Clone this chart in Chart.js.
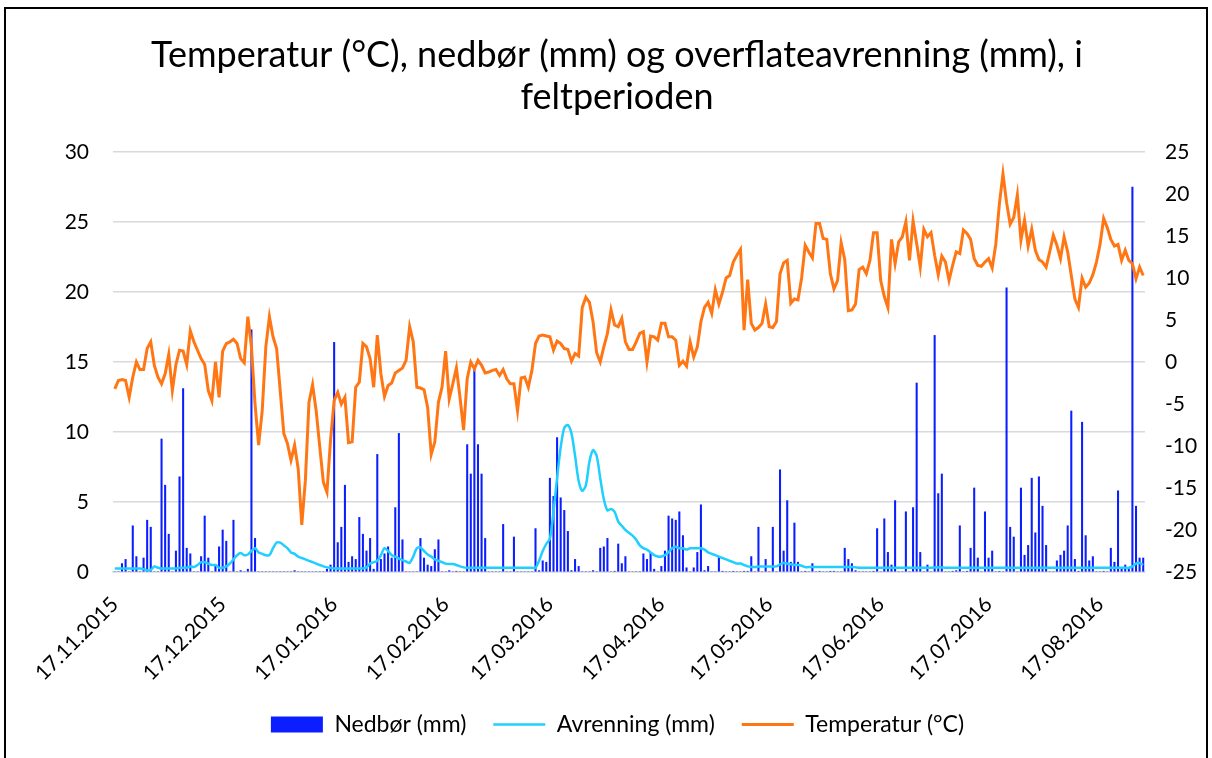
<!DOCTYPE html>
<html>
<head>
<meta charset="utf-8">
<script src="https://cdn.jsdelivr.net/npm/chart.js@4.4.1/dist/chart.umd.min.js"></script>
<style>
  body { margin: 0; background: #fff; }
  #ramme { position: absolute; left: 4px; top: 7px; width: 1200px; height: 800px; border: 2px solid #000; }
  canvas { display: block; }
</style>
</head>
<body>
<div id="ramme"><canvas id="graf" width="1200" height="749"></canvas></div>
<script>
// dagverdier fra 17.11.2015
const tittel = ['Temperatur (°C), nedbør (mm) og overflateavrenning (mm), i', 'feltperioden'];
const tickLabels = ['17.11.2015', '17.12.2015', '17.01.2016', '17.02.2016', '17.03.2016',
    '17.04.2016', '17.05.2016', '17.06.2016', '17.07.2016', '17.08.2016'];

const temperatur = [
    -3.2, -2.2, -2.1, -2.2, -4.2, -1.8, 0.0, -0.9, -0.9, 1.6,
    2.4, -0.4, -1.8, -2.6, -1.4, 0.9, -3.4, -0.3, 1.4, 1.3,
    -0.3, 3.7, 2.4, 1.4, 0.4, -0.3, -3.4, -4.6, 0.0, -4.2,
    1.3, 2.2, 2.4, 2.7, 2.2, 0.4, -0.1, 5.4, 1.8, -5.0,
    -9.9, -5.8, 1.8, 5.4, 3.0, 1.6, -3.4, -8.5, -9.7, -11.7,
    -9.9, -12.7, -19.4, -14.1, -4.8, -2.7, -5.8, -10.1, -14.3, -15.5,
    -9.3, -4.6, -3.6, -5.0, -4.2, -9.6, -9.5, -3.0, -2.4, 2.2,
    1.8, 0.4, -3.0, 3.2, -1.4, -4.1, -2.8, -2.5, -1.3, -1.0,
    -0.7, 0.2, 4.2, 2.4, -3.0, -3.1, -3.3, -5.4, -11.0, -9.5,
    -4.8, -3.0, 1.3, -4.4, -2.6, -0.7, -4.2, -8.1, -2.0, 0.0,
    -0.8, 0.2, -0.4, -1.3, -1.2, -1.0, -0.9, -1.6, -0.9, -2.0,
    -2.6, -2.6, -5.8, -1.9, -1.8, -3.0, -1.0, 2.2, 3.1, 3.2,
    3.1, 3.0, 1.4, 2.5, 2.2, 1.6, 1.5, 0.1, 1.0, 0.7,
    6.5, 7.7, 7.1, 4.8, 1.1, 0.0, 1.8, 3.4, 6.2, 4.4,
    4.2, 5.2, 2.4, 1.5, 1.5, 2.4, 3.4, 3.6, 0.0, 3.1,
    3.0, 2.6, 4.6, 4.6, 3.0, 3.0, 2.6, -0.4, 0.1, -0.5,
    2.4, 0.6, 1.8, 4.8, 6.5, 7.1, 5.8, 8.6, 6.9, 8.3,
    10.0, 10.3, 11.9, 12.7, 13.4, 3.8, 9.8, 4.6, 3.8, 4.1,
    4.6, 6.9, 4.2, 4.1, 4.8, 10.5, 11.8, 12.1, 7.0, 7.5,
    7.4, 10.0, 13.9, 13.1, 12.4, 16.5, 16.5, 14.7, 14.6, 10.5,
    8.7, 9.7, 14.2, 12.2, 6.1, 6.2, 6.9, 11.0, 11.3, 10.5,
    12.1, 15.4, 15.4, 9.7, 7.8, 6.5, 14.6, 11.7, 14.3, 14.9,
    16.7, 12.1, 16.8, 14.1, 11.3, 15.8, 14.9, 15.4, 12.7, 10.4,
    12.6, 11.9, 9.7, 11.5, 13.1, 12.9, 15.7, 15.3, 14.6, 12.3,
    11.5, 11.4, 11.9, 12.3, 11.2, 14.0, 18.8, 22.4, 19.0, 16.4,
    17.2, 19.9, 14.5, 16.9, 13.8, 15.8, 13.3, 12.2, 11.9, 11.3,
    13.1, 15.1, 13.9, 12.3, 14.9, 13.1, 10.3, 7.5, 6.5, 10.0,
    8.9, 9.4, 10.4, 11.9, 14.0, 17.1, 16.0, 14.6, 13.8, 14.0,
    12.1, 13.3, 12.1, 11.7, 9.9, 11.3, 10.3
];

const nedbor = [
    0, 0, 0.6, 0.9, 0, 3.3, 1.1, 0, 1.0, 3.7,
    3.2, 0, 0, 9.5, 6.2, 2.7, 0, 1.5, 6.8, 13.1,
    1.7, 1.3, 0, 0, 1.1, 4.0, 1.0, 0, 0.5, 1.8,
    3.0, 2.2, 0, 3.7, 0, 0.1, 0, 0.2, 17.3, 2.4,
    0, 0, 0, 0, 0, 0, 0, 0, 0, 0,
    0.1, 0, 0, 0, 0, 0, 0, 0, 0, 0.2,
    0.5, 16.4, 2.1, 3.2, 6.2, 0.7, 1.1, 0.9, 3.9, 2.7,
    1.5, 2.4, 0.2, 8.4, 0.9, 1.3, 1.8, 1.0, 4.6, 9.9,
    2.3, 0, 0, 0, 0, 2.4, 1.0, 0.5, 0.4, 1.6,
    2.3, 0, 0, 0.1, 0, 0.05, 0, 0, 9.1, 7.0,
    14.5, 9.1, 7.0, 2.4, 0, 0, 0, 0, 3.4, 0,
    0, 2.5, 0, 0, 0, 0, 0, 3.1, 0.1, 0.8,
    0.7, 6.7, 5.4, 9.6, 5.3, 4.4, 2.9, 0.1, 0.9, 0.4,
    0, 0, 0, 0.1, 0, 1.7, 1.8, 2.4, 0, 0.05,
    2.0, 0.6, 1.1, 0, 0, 0, 0, 1.3, 0.9, 1.4,
    0.2, 0, 0.4, 1.5, 4.0, 3.8, 3.7, 4.3, 2.6, 0.3,
    0, 0.3, 1.4, 4.8, 0.1, 0.4, 0, 0, 1.1, 0.05,
    0, 0, 0.05, 0, 0, 0.05, 0.05, 1.1, 0, 3.2,
    0, 0.9, 0, 3.2, 0, 7.3, 1.5, 5.1, 0.7, 3.5,
    0.7, 0, 0.05, 0, 0.6, 0, 0.05, 0, 0, 0.05,
    0.05, 0, 0, 1.7, 0.9, 0.6, 0.1, 0, 0, 0,
    0, 0.05, 3.1, 0, 3.8, 1.4, 0.5, 5.1, 0, 0,
    4.3, 0, 4.6, 13.5, 1.4, 0, 0.5, 0, 16.9, 5.6,
    7.0, 0, 0, 0.05, 0.1, 3.3, 0, 0.05, 1.7, 6.0,
    1.0, 0, 4.3, 1.0, 1.5, 0, 0.05, 0, 20.3, 3.2,
    2.5, 0, 6.0, 1.2, 1.9, 6.7, 2.8, 6.8, 4.7, 1.9,
    0, 0, 0.8, 1.2, 1.5, 3.3, 11.5, 0.9, 0.05, 10.7,
    2.6, 0.8, 1.1, 0, 0, 0.05, 0, 1.7, 0.7, 5.8,
    0.3, 0.5, 0.3, 27.5, 4.7, 1.0, 1.0
];

const avrenning = [
    0.25, 0.25, 0.25, 0.25, 0.25, 0.25, 0.25, 0.25, 0.2, 0.12,
    0.15, 0.4, 0.3, 0.25, 0.25, 0.25, 0.25, 0.25, 0.3, 0.3,
    0.3, 0.4, 0.35, 0.5, 0.7, 0.7, 0.6, 0.5, 0.5, 0.3,
    0.3, 0.4, 0.6, 0.9, 1.2, 1.35, 1.2, 1.25, 1.5, 1.7,
    1.4, 1.3, 1.2, 1.2, 1.7, 2.1, 2.1, 1.9, 1.7, 1.4,
    1.3, 1.1, 1.0, 0.9, 0.8, 0.7, 0.6, 0.5, 0.4, 0.33,
    0.3, 0.25, 0.25, 0.25, 0.25, 0.25, 0.25, 0.25, 0.25, 0.25,
    0.33, 0.6, 0.7, 0.8, 1.2, 1.7, 1.5, 1.2, 1.1, 0.95,
    0.85, 0.75, 0.65, 1.1, 1.7, 1.75, 1.5, 1.25, 1.1, 0.9,
    0.8, 0.7, 0.6, 0.57, 0.57, 0.5, 0.4, 0.33, 0.3, 0.3,
    0.3, 0.3, 0.3, 0.3, 0.3, 0.3, 0.3, 0.3, 0.3, 0.3,
    0.3, 0.3, 0.3, 0.3, 0.3, 0.3, 0.3, 0.3, 0.8, 1.5,
    2.0, 2.4, 4.3, 6.7, 8.9, 10.3, 10.5, 9.9, 8.3, 6.5,
    5.8, 6.2, 7.9, 8.7, 8.3, 6.7, 5.2, 4.4, 4.5, 4.3,
    3.6, 3.3, 3.0, 2.8, 2.6, 2.3, 1.9, 1.7, 1.6, 1.4,
    1.2, 1.1, 1.1, 1.2, 1.4, 1.7, 1.8, 1.7, 1.7, 1.6,
    1.7, 1.7, 1.7, 1.7, 1.6, 1.4, 1.3, 1.2, 1.1, 1.0,
    0.9, 0.8, 0.7, 0.6, 0.6, 0.5, 0.4, 0.36, 0.36, 0.4,
    0.4, 0.4, 0.4, 0.4, 0.4, 0.55, 0.65, 0.6, 0.55, 0.5,
    0.5, 0.45, 0.35, 0.35, 0.35, 0.35, 0.35, 0.35, 0.35, 0.35,
    0.35, 0.35, 0.35, 0.35, 0.35, 0.35, 0.33, 0.3, 0.3, 0.3,
    0.3, 0.3, 0.3, 0.3, 0.3, 0.3, 0.3, 0.3, 0.3, 0.3,
    0.3, 0.3, 0.3, 0.3, 0.3, 0.3, 0.3, 0.3, 0.33, 0.33,
    0.33, 0.3, 0.3, 0.3, 0.3, 0.3, 0.3, 0.3, 0.3, 0.3,
    0.3, 0.3, 0.3, 0.3, 0.3, 0.3, 0.3, 0.3, 0.3, 0.3,
    0.3, 0.3, 0.3, 0.3, 0.3, 0.3, 0.3, 0.3, 0.3, 0.3,
    0.3, 0.3, 0.3, 0.3, 0.3, 0.3, 0.3, 0.3, 0.3, 0.3,
    0.3, 0.3, 0.3, 0.3, 0.3, 0.3, 0.3, 0.3, 0.3, 0.3,
    0.3, 0.3, 0.3, 0.4, 0.6, 0.65, 0.5
];

// en kategori per dag
let startDato = new Date(2015, 10, 17);
let dager = temperatur.map(function (v, i) {
    let d = new Date(startDato);
    d.setDate(d.getDate() + i);
    return String(d.getDate()).padStart(2, '0') + '.' + String(d.getMonth() + 1).padStart(2, '0') + '.' + d.getFullYear();
});

let tittelPlugin = {
    id: 'tittel',
    afterDraw: function (chart) {
        let c = chart.ctx;
        c.save();
        c.font = '36px Lato';
        c.fillStyle = '#000';
        c.textAlign = 'center';
        c.textBaseline = 'alphabetic';
        c.fillText(tittel[0], 611, 58);
        c.fillText(tittel[1], 611, 100);
        c.restore();
    }
};

Chart.defaults.font.family = 'Lato';
Chart.defaults.font.size = 21;
Chart.defaults.color = '#000';

let ctx = document.getElementById('graf');
let chart = new Chart(ctx, {
    type: 'bar',
    data: {
        labels: dager,
        datasets: [
            {
                type: 'bar',
                label: 'Nedbør (mm)',
                data: nedbor,
                backgroundColor: '#0a1eff',
                borderWidth: 0,
                barThickness: 1.4,
                pointStyle: 'rect',
                yAxisID: 'y',
                order: 3
            },
            {
                type: 'line',
                label: 'Avrenning (mm)',
                data: avrenning,
                borderColor: '#1fcfff',
                backgroundColor: '#1fcfff',
                borderWidth: 2.5,
                pointRadius: 0,
                tension: 0.3,
                pointStyle: 'line',
                yAxisID: 'y',
                order: 2
            },
            {
                type: 'line',
                label: 'Temperatur (°C)',
                data: temperatur,
                borderColor: '#ff7614',
                backgroundColor: '#ff7614',
                borderWidth: 3,
                pointRadius: 0,
                tension: 0,
                pointStyle: 'line',
                yAxisID: 'y1',
                order: 1
            }
        ]
    },
    options: {
        responsive: false,
        animation: false,
        devicePixelRatio: 1,
        layout: {
            padding: { top: 143, left: 23, right: 0, bottom: 12 }
        },
        plugins: {
            title: { display: false },
            tooltip: { enabled: false },
            legend: {
                position: 'bottom',
                labels: {
                    usePointStyle: true,
                    pointStyleWidth: 52,
                    boxHeight: 16,
                    padding: 27,
                    color: '#000',
                    font: { size: 23 },
                    sort: function (a, b) { return a.datasetIndex - b.datasetIndex; }
                }
            }
        },
        scales: {
            x: {
                offset: true,
                grid: {
                    offset: true,
                    drawOnChartArea: false,
                    drawTicks: true,
                    tickLength: 6,
                    lineWidth: 1.5,
                    color: function (c) {
                        return tickLabels.includes(dager[c.index]) ? '#d9d9d9' : 'rgba(0,0,0,0)';
                    }
                },
                border: { display: true, color: '#d9d9d9', width: 1.5 },
                ticks: {
                    autoSkip: false,
                    minRotation: 45,
                    maxRotation: 45,
                    padding: 14,
                    callback: function (v) {
                        let l = dager[v];
                        return tickLabels.includes(l) ? l : null;
                    }
                },
                afterFit: function (s) { s.height = 114; }
            },
            y: {
                position: 'left',
                min: 0,
                max: 30,
                ticks: { stepSize: 5, padding: 24 },
                grid: { color: '#d9d9d9', lineWidth: 1.5, drawTicks: false },
                border: { display: false },
                afterFit: function (s) { s.width = 84; }
            },
            y1: {
                position: 'right',
                min: -25,
                max: 25,
                ticks: { stepSize: 5, padding: 20 },
                grid: { drawOnChartArea: false, drawTicks: false },
                border: { display: false },
                afterFit: function (s) { s.width = 61; }
            }
        }
    },
    plugins: [tittelPlugin]
});
</script>
</body>
</html>
